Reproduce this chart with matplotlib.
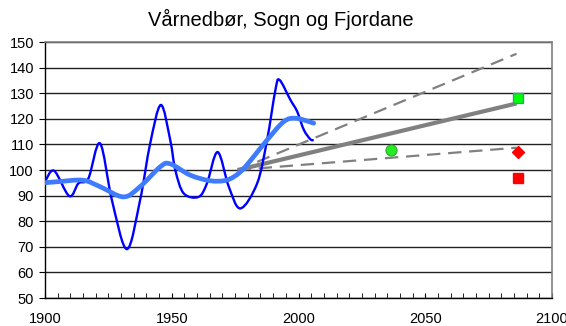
import numpy as np
import matplotlib
matplotlib.use('Agg')
import matplotlib.pyplot as plt
from matplotlib.path import Path
from matplotlib.patches import PathPatch
from matplotlib.ticker import MultipleLocator

plt.rcParams['font.family'] = ['Liberation Sans', 'DejaVu Sans']

# observed spring precipitation (% of normal), smoothed
obs_years = [1900, 1903.6, 1909.6, 1913.2, 1917.1, 1921.7, 1926.4, 1932.3, 1937.5,
             1941.5, 1945.7, 1949.4, 1951.4, 1954.7, 1960.6, 1963.9, 1968.1, 1972.5,
             1977.1, 1983.7, 1987.6, 1990.9, 1992.5, 1996.8, 1999.5, 2002.1, 2004.7, 2006]
obs_values = [95.5, 99.7, 89.8, 94.8, 96.7, 110.4, 88.2, 69.1, 88.2,
              110.4, 125.4, 111.7, 100, 90.9, 89.5, 94.8, 107, 93.5,
              85, 94.8, 111.7, 131.3, 135.2, 127.4, 122.8, 115.7, 112, 111.7]

# long-term smoothed trend
trend_years = [1900, 1905.9, 1915, 1921.7, 1931, 1937.5, 1945.5, 1949.4, 1957.3,
               1965.2, 1971.8, 1977.1, 1982.3, 1987.6, 1994.2, 1999, 2006]
trend_values = [95.0, 95.5, 96.0, 93.5, 89.5, 93.5, 101.3, 102.4, 98,
                95.8, 96.1, 99.3, 105.2, 111.7, 118.9, 120.2, 118.3]

# scenario projections from 1976 to 2086
proj_years = [1976, 2086]
proj_mid = [100, 126]
proj_high = [100, 145.4]
proj_low = [100, 108.7]

# single model results
circle_pt = (2036.5, 108)
green_sq = (2086.5, 128)
red_diamond = (2086.5, 107)
red_sq = (2086.5, 97)


def smooth_path(xs, ys):
    # Catmull-Rom spline converted to cubic Bezier segments
    p = np.column_stack([xs, ys]).astype(float)
    p = np.vstack([p[0], p, p[-1]])
    verts = [p[1]]
    codes = [Path.MOVETO]
    for i in range(1, len(p) - 2):
        c1 = p[i] + (p[i + 1] - p[i - 1]) / 6.0
        c2 = p[i + 1] - (p[i + 2] - p[i]) / 6.0
        verts += [c1, c2, p[i + 1]]
        codes += [Path.CURVE4] * 3
    return Path(verts, codes)


fig = plt.figure(figsize=(5.66, 3.26), dpi=100)
ax = fig.add_axes([45 / 566, 1 - 298 / 326, 507 / 566, 256 / 326])

ax.set_xlim(1900, 2100)
ax.set_ylim(50, 150)
ax.set_yticks(np.arange(50, 151, 10))
ax.xaxis.set_major_locator(MultipleLocator(50))
ax.xaxis.set_minor_locator(MultipleLocator(5))
ax.grid(axis='y', color='#202020', lw=1.0)
ax.set_axisbelow(True)

for s in ['top', 'right']:
    ax.spines[s].set_color('#808080')
    ax.spines[s].set_linewidth(1.2)
for s in ['left', 'bottom']:
    ax.spines[s].set_color('black')
    ax.spines[s].set_linewidth(1.0)

ax.tick_params(axis='x', which='both', direction='in', length=3.5, labelsize=10.5, pad=10)
ax.tick_params(axis='y', direction='out', length=4, labelsize=10.5, pad=4)

# projections
ax.plot(proj_years, proj_mid, color='#808080', lw=3, solid_capstyle='butt', zorder=2)
ax.plot(proj_years, proj_high, color='#808080', lw=1.6, dashes=(6, 3.5), zorder=2)
ax.plot(proj_years, proj_low, color='#808080', lw=1.6, dashes=(6, 3.5), zorder=2)

# observations
ax.add_patch(PathPatch(smooth_path(obs_years, obs_values), fill=False,
                       edgecolor='#0000FF', lw=1.7, zorder=3))
ax.add_patch(PathPatch(smooth_path(trend_years, trend_values), fill=False,
                       edgecolor='#3F7BFF', lw=3.4, capstyle='round', zorder=3))

ax.plot(*circle_pt, 'o', ms=8, mfc='#22EE22', mec='#33AA33', mew=0.8, zorder=4)
ax.plot(*green_sq, 's', ms=6.5, mfc='#00FF00', mec='#339999', mew=1, zorder=4)
ax.plot(*red_diamond, 'D', ms=6, mfc='#FF0000', mec='#FF0000', zorder=4)
ax.plot(*red_sq, 's', ms=7, mfc='#FF0000', mec='#FF0000', zorder=4)

fig.text(0.497, 0.939, 'Vårnedbør, Sogn og Fjordane', ha='center', va='center', fontsize=14.5)

fig.savefig('out.png', dpi=100)
